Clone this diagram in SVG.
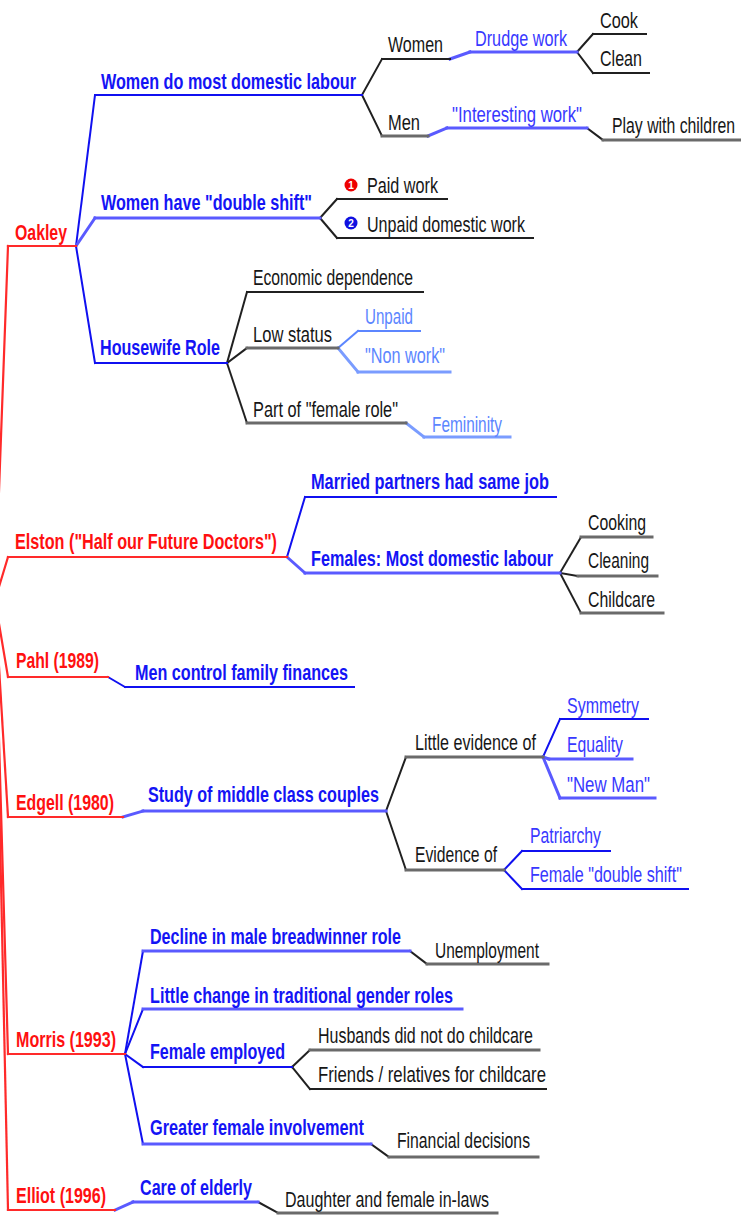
<svg xmlns="http://www.w3.org/2000/svg" width="741" height="1223" viewBox="0 0 741 1223">
<style>
text{font-family:"Liberation Sans",Arial,sans-serif;font-size:22px}
.tr{fill:#ff1010;font-weight:bold}
.tb{fill:#1414f5;font-weight:bold}
.tk{fill:#161616}
.tm{fill:#3838ff}
.tl{fill:#5c86ff}
.tw{fill:#fff;font-weight:bold;font-size:10px}
line,polyline{fill:none;stroke-linecap:square}
.lr{stroke:#ff2a2a;stroke-width:2.2}
.lb{stroke:#1010f0;stroke-width:2}
.ls{stroke:#5a5aff;stroke-width:3}
.lk{stroke:#202020;stroke-width:2}
.lg{stroke:#6a6a6a;stroke-width:3}
.ll{stroke:#5c86ff;stroke-width:2}
.lq{stroke:#7a9cff;stroke-width:3}
</style>
<g id="connectors">
<!-- red trunk -->
<line class="lr" x1="-5" y1="600" x2="8" y2="246"/>
<line class="lr" x1="-5" y1="600" x2="8" y2="557"/>
<line class="lr" x1="-5" y1="600" x2="8" y2="677"/>
<line class="lr" x1="-5" y1="600" x2="8" y2="817"/>
<line class="lr" x1="-5" y1="600" x2="8" y2="1054"/>
<line class="lr" x1="-5" y1="600" x2="8" y2="1210"/>
<!-- Oakley -->
<line class="lb" x1="76" y1="246" x2="95" y2="95"/>
<line class="ls" x1="76" y1="246" x2="95" y2="218"/>
<line class="lb" x1="76" y1="246" x2="95" y2="363"/>
<line class="lk" x1="362" y1="95" x2="382" y2="59"/>
<line class="lk" x1="362" y1="95" x2="382" y2="136"/>
<line class="ls" x1="450" y1="59" x2="470" y2="52"/>
<line class="lk" x1="577" y1="52" x2="593" y2="34"/>
<line class="lk" x1="577" y1="52" x2="593" y2="73"/>
<line class="ls" x1="428" y1="136" x2="447" y2="128"/>
<line class="lk" x1="587" y1="128" x2="603" y2="140"/>
<line class="lk" x1="320" y1="218" x2="337" y2="199"/>
<line class="lk" x1="320" y1="218" x2="337" y2="238"/>
<line class="lk" x1="227" y1="363" x2="247" y2="292"/>
<line class="lk" x1="227" y1="363" x2="247" y2="348"/>
<line class="lk" x1="227" y1="363" x2="247" y2="423"/>
<line class="ll" x1="338" y1="348" x2="358" y2="331"/>
<line class="lq" x1="338" y1="348" x2="358" y2="372"/>
<line class="lq" x1="406" y1="423" x2="424" y2="437"/>
<!-- Elston -->
<line class="lb" x1="287" y1="557" x2="305" y2="497"/>
<line class="ls" x1="287" y1="557" x2="305" y2="573"/>
<line class="lk" x1="560" y1="573" x2="581" y2="537"/>
<line class="lk" x1="560" y1="573" x2="578" y2="576"/>
<line class="lk" x1="560" y1="573" x2="581" y2="613"/>
<!-- Pahl -->
<line class="lb" x1="108" y1="677" x2="125" y2="687"/>
<!-- Edgell -->
<line class="ls" x1="123" y1="817" x2="143" y2="811"/>
<line class="lk" x1="386" y1="811" x2="406" y2="757"/>
<line class="lk" x1="386" y1="811" x2="406" y2="870"/>
<line class="lb" x1="543" y1="757" x2="560" y2="719"/>
<line class="ls" x1="543" y1="757" x2="549" y2="759"/>
<line class="ls" x1="543" y1="757" x2="560" y2="798"/>
<line class="lb" x1="504" y1="870" x2="522" y2="851"/>
<line class="lb" x1="504" y1="870" x2="522" y2="889"/>
<!-- Morris -->
<line class="lb" x1="125" y1="1054" x2="143" y2="951"/>
<line class="lb" x1="125" y1="1054" x2="143" y2="1009"/>
<line class="lb" x1="125" y1="1054" x2="143" y2="1067"/>
<line class="lb" x1="125" y1="1054" x2="143" y2="1144"/>
<line class="lk" x1="410" y1="951" x2="427" y2="964"/>
<line class="lk" x1="292" y1="1067" x2="310" y2="1050"/>
<line class="lk" x1="292" y1="1067" x2="310" y2="1089"/>
<line class="lk" x1="371" y1="1144" x2="389" y2="1157"/>
<!-- Elliot -->
<line class="ls" x1="115" y1="1210" x2="133" y2="1202"/>
<line class="lk" x1="258" y1="1202" x2="278" y2="1213"/>
</g>

<g id="oakley"><line class="lr" x1="8" y1="246" x2="76" y2="246"/><text class="tr" x="15" y="240" textLength="52" lengthAdjust="spacingAndGlyphs">Oakley</text></g>
<g id="n-wdml"><line class="lb" x1="95" y1="95" x2="362" y2="95"/><text class="tb" x="101" y="89" textLength="255" lengthAdjust="spacingAndGlyphs">Women do most domestic labour</text></g>
<g id="n-women"><line class="lk" x1="382" y1="59" x2="450" y2="59"/><text class="tk" x="388" y="52" textLength="55" lengthAdjust="spacingAndGlyphs">Women</text></g>
<g id="n-drudge"><line class="ls" x1="470" y1="52" x2="577" y2="52"/><text class="tm" x="475" y="46" textLength="92" lengthAdjust="spacingAndGlyphs">Drudge work</text></g>
<g id="n-cook"><line class="lk" x1="593" y1="34" x2="646" y2="34"/><text class="tk" x="600" y="28" textLength="38" lengthAdjust="spacingAndGlyphs">Cook</text></g>
<g id="n-clean"><line class="lk" x1="593" y1="73" x2="649" y2="73"/><text class="tk" x="600" y="66" textLength="42" lengthAdjust="spacingAndGlyphs">Clean</text></g>
<g id="n-men"><line class="lg" x1="382" y1="136" x2="428" y2="136"/><text class="tk" x="388" y="130" textLength="32" lengthAdjust="spacingAndGlyphs">Men</text></g>
<g id="n-interesting"><line class="ls" x1="447" y1="128" x2="587" y2="128"/><text class="tm" x="452" y="122" textLength="130" lengthAdjust="spacingAndGlyphs">"Interesting work"</text></g>
<g id="n-play"><line class="lg" x1="603" y1="140" x2="741" y2="140"/><text class="tk" x="612" y="133" textLength="123" lengthAdjust="spacingAndGlyphs">Play with children</text></g>
<g id="n-whds"><line class="ls" x1="95" y1="218" x2="320" y2="218"/><text class="tb" x="101" y="210" textLength="211" lengthAdjust="spacingAndGlyphs">Women have "double shift"</text></g>
<g id="n-paid"><line class="lk" x1="337" y1="199" x2="447" y2="199"/><circle cx="351" cy="185" r="6.5" fill="#ee0000"/><text class="tw" x="351" y="189" text-anchor="middle">1</text><text class="tk" x="367" y="193" textLength="71" lengthAdjust="spacingAndGlyphs">Paid work</text></g>
<g id="n-unpaiddom"><line class="lk" x1="337" y1="238" x2="533" y2="238"/><circle cx="351" cy="223" r="6.5" fill="#1010e0"/><text class="tw" x="351" y="227" text-anchor="middle">2</text><text class="tk" x="367" y="232" textLength="158" lengthAdjust="spacingAndGlyphs">Unpaid domestic work</text></g>
<g id="n-housewife"><line class="lb" x1="95" y1="363" x2="227" y2="363"/><text class="tb" x="100" y="355" textLength="120" lengthAdjust="spacingAndGlyphs">Housewife Role</text></g>
<g id="n-econ"><line class="lk" x1="247" y1="292" x2="423" y2="292"/><text class="tk" x="253" y="285" textLength="160" lengthAdjust="spacingAndGlyphs">Economic dependence</text></g>
<g id="n-low"><line class="lg" x1="247" y1="348" x2="338" y2="348"/><text class="tk" x="253" y="342" textLength="79" lengthAdjust="spacingAndGlyphs">Low status</text></g>
<g id="n-unpaid"><line class="ll" x1="358" y1="331" x2="420" y2="331"/><text class="tl" x="365" y="324" textLength="48" lengthAdjust="spacingAndGlyphs">Unpaid</text></g>
<g id="n-nonwork"><line class="lq" x1="358" y1="372" x2="450" y2="372"/><text class="tl" x="365" y="363" textLength="80" lengthAdjust="spacingAndGlyphs">"Non work"</text></g>
<g id="n-partof"><line class="lg" x1="247" y1="423" x2="406" y2="423"/><text class="tk" x="253" y="417" textLength="145" lengthAdjust="spacingAndGlyphs">Part of "female role"</text></g>
<g id="n-femininity"><line class="lq" x1="424" y1="437" x2="510" y2="437"/><text class="tl" x="432" y="432" textLength="70" lengthAdjust="spacingAndGlyphs">Femininity</text></g>

<g id="elston"><line class="lr" x1="8" y1="557" x2="287" y2="557"/><text class="tr" x="15" y="549" textLength="262" lengthAdjust="spacingAndGlyphs">Elston ("Half our Future Doctors")</text></g>
<g id="n-married"><line class="lb" x1="305" y1="497" x2="556" y2="497"/><text class="tb" x="311" y="489" textLength="238" lengthAdjust="spacingAndGlyphs">Married partners had same job</text></g>
<g id="n-females"><line class="ls" x1="305" y1="573" x2="560" y2="573"/><text class="tb" x="311" y="566" textLength="242" lengthAdjust="spacingAndGlyphs">Females: Most domestic labour</text></g>
<g id="n-cooking"><line class="lg" x1="581" y1="537" x2="652" y2="537"/><text class="tk" x="588" y="530" textLength="58" lengthAdjust="spacingAndGlyphs">Cooking</text></g>
<g id="n-cleaning"><line class="lg" x1="578" y1="576" x2="657" y2="576"/><text class="tk" x="588" y="568" textLength="61" lengthAdjust="spacingAndGlyphs">Cleaning</text></g>
<g id="n-childcare"><line class="lg" x1="581" y1="613" x2="663" y2="613"/><text class="tk" x="588" y="607" textLength="67" lengthAdjust="spacingAndGlyphs">Childcare</text></g>

<g id="pahl"><line class="lr" x1="8" y1="677" x2="108" y2="677"/><text class="tr" x="16" y="668" textLength="83" lengthAdjust="spacingAndGlyphs">Pahl (1989)</text></g>
<g id="n-mencontrol"><line class="lb" x1="125" y1="687" x2="354" y2="687"/><text class="tb" x="135" y="680" textLength="213" lengthAdjust="spacingAndGlyphs">Men control family finances</text></g>

<g id="edgell"><line class="lr" x1="8" y1="817" x2="123" y2="817"/><text class="tr" x="16" y="810" textLength="98" lengthAdjust="spacingAndGlyphs">Edgell (1980)</text></g>
<g id="n-study"><line class="ls" x1="143" y1="811" x2="386" y2="811"/><text class="tb" x="148" y="802" textLength="231" lengthAdjust="spacingAndGlyphs">Study of middle class couples</text></g>
<g id="n-little"><line class="lg" x1="406" y1="757" x2="543" y2="757"/><text class="tk" x="415" y="750" textLength="121" lengthAdjust="spacingAndGlyphs">Little evidence of</text></g>
<g id="n-evidence"><line class="lg" x1="406" y1="870" x2="504" y2="870"/><text class="tk" x="415" y="862" textLength="82" lengthAdjust="spacingAndGlyphs">Evidence of</text></g>
<g id="n-symmetry"><line class="lb" x1="560" y1="719" x2="648" y2="719"/><text class="tm" x="567" y="713" textLength="72" lengthAdjust="spacingAndGlyphs">Symmetry</text></g>
<g id="n-equality"><line class="ls" x1="549" y1="759" x2="632" y2="759"/><text class="tm" x="567" y="752" textLength="56" lengthAdjust="spacingAndGlyphs">Equality</text></g>
<g id="n-newman"><line class="ls" x1="560" y1="798" x2="655" y2="798"/><text class="tm" x="567" y="792" textLength="83" lengthAdjust="spacingAndGlyphs">"New Man"</text></g>
<g id="n-patriarchy"><line class="lb" x1="522" y1="851" x2="610" y2="851"/><text class="tm" x="530" y="843" textLength="71" lengthAdjust="spacingAndGlyphs">Patriarchy</text></g>
<g id="n-femaleds"><line class="lb" x1="522" y1="889" x2="688" y2="889"/><text class="tm" x="530" y="882" textLength="152" lengthAdjust="spacingAndGlyphs">Female "double shift"</text></g>

<g id="morris"><line class="lr" x1="8" y1="1054" x2="125" y2="1054"/><text class="tr" x="16" y="1047" textLength="100" lengthAdjust="spacingAndGlyphs">Morris (1993)</text></g>
<g id="n-decline"><line class="ls" x1="143" y1="951" x2="410" y2="951"/><text class="tb" x="150" y="944" textLength="251" lengthAdjust="spacingAndGlyphs">Decline in male breadwinner role</text></g>
<g id="n-unemployment"><line class="lg" x1="427" y1="964" x2="548" y2="964"/><text class="tk" x="435" y="958" textLength="104" lengthAdjust="spacingAndGlyphs">Unemployment</text></g>
<g id="n-littlechange"><line class="ls" x1="143" y1="1009" x2="462" y2="1009"/><text class="tb" x="150" y="1003" textLength="303" lengthAdjust="spacingAndGlyphs">Little change in traditional gender roles</text></g>
<g id="n-femaleemp"><line class="lb" x1="143" y1="1067" x2="292" y2="1067"/><text class="tb" x="150" y="1059" textLength="135" lengthAdjust="spacingAndGlyphs">Female employed</text></g>
<g id="n-husbands"><line class="lg" x1="310" y1="1050" x2="539" y2="1050"/><text class="tk" x="318" y="1043" textLength="215" lengthAdjust="spacingAndGlyphs">Husbands did not do childcare</text></g>
<g id="n-friends"><line class="lk" x1="310" y1="1089" x2="546" y2="1089"/><text class="tk" x="318" y="1082" textLength="228" lengthAdjust="spacingAndGlyphs">Friends / relatives for childcare</text></g>
<g id="n-greater"><line class="ls" x1="143" y1="1144" x2="371" y2="1144"/><text class="tb" x="150" y="1135" textLength="214" lengthAdjust="spacingAndGlyphs">Greater female involvement</text></g>
<g id="n-financial"><line class="lg" x1="389" y1="1157" x2="538" y2="1157"/><text class="tk" x="397" y="1148" textLength="133" lengthAdjust="spacingAndGlyphs">Financial decisions</text></g>

<g id="elliot"><line class="lr" x1="8" y1="1210" x2="115" y2="1210"/><text class="tr" x="16" y="1203" textLength="90" lengthAdjust="spacingAndGlyphs">Elliot (1996)</text></g>
<g id="n-care"><line class="ls" x1="133" y1="1202" x2="258" y2="1202"/><text class="tb" x="140" y="1195" textLength="112" lengthAdjust="spacingAndGlyphs">Care of elderly</text></g>
<g id="n-daughter"><line class="lg" x1="278" y1="1213" x2="497" y2="1213"/><text class="tk" x="285" y="1207" textLength="204" lengthAdjust="spacingAndGlyphs">Daughter and female in-laws</text></g>
</svg>
